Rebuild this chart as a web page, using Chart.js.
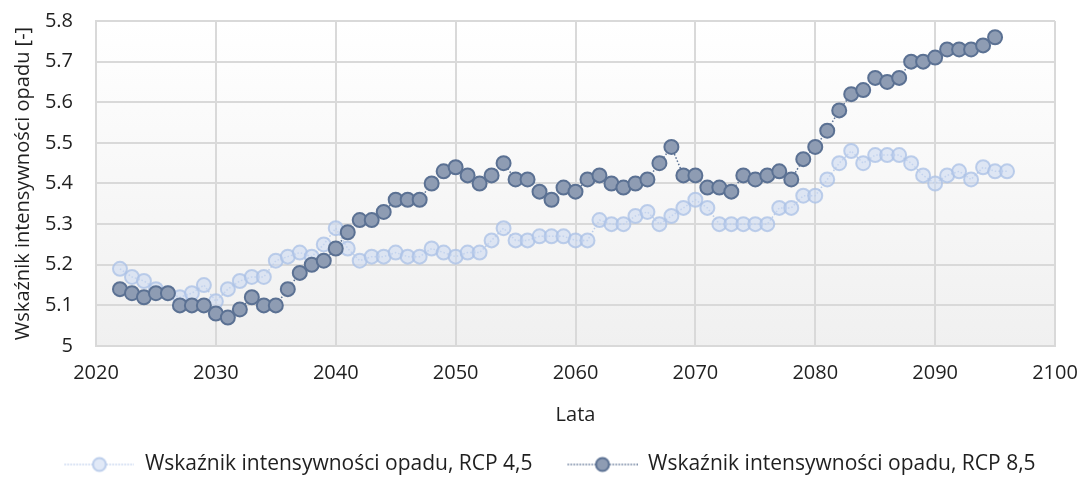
<!DOCTYPE html>
<html>
<head>
<meta charset="utf-8">
<script src="https://cdn.jsdelivr.net/npm/chart.js@4.4.1/dist/chart.umd.min.js"></script>
<style>
  html, body { margin: 0; padding: 0; background: #ffffff; }
  #wrap { width: 1080px; height: 495px; position: relative; }
</style>
</head>
<body>
<div id="wrap"><canvas id="chart"></canvas></div>
<script>
  "use strict";

  const YEARS_45 = [2022, 2023, 2024, 2025, 2026, 2027, 2028, 2029, 2030, 2031, 2032, 2033, 2034, 2035, 2036, 2037, 2038, 2039,
    2040, 2041, 2042, 2043, 2044, 2045, 2046, 2047, 2048, 2049, 2050, 2051, 2052, 2053, 2054, 2055, 2056, 2057, 2058, 2059,
    2060, 2061, 2062, 2063, 2064, 2065, 2066, 2067, 2068, 2069, 2070, 2071, 2072, 2073, 2074, 2075, 2076, 2077, 2078, 2079,
    2080, 2081, 2082, 2083, 2084, 2085, 2086, 2087, 2088, 2089, 2090, 2091, 2092, 2093, 2094, 2095, 2096];
  const RCP45 = [5.19, 5.17, 5.16, 5.14, 5.13, 5.12, 5.13, 5.15, 5.11, 5.14, 5.16, 5.17, 5.17, 5.21, 5.22, 5.23, 5.22, 5.25,
    5.29, 5.24, 5.21, 5.22, 5.22, 5.23, 5.22, 5.22, 5.24, 5.23, 5.22, 5.23, 5.23, 5.26, 5.29, 5.26, 5.26, 5.27, 5.27, 5.27,
    5.26, 5.26, 5.31, 5.30, 5.30, 5.32, 5.33, 5.30, 5.32, 5.34, 5.36, 5.34, 5.30, 5.30, 5.30, 5.30, 5.30, 5.34, 5.34, 5.37,
    5.37, 5.41, 5.45, 5.48, 5.45, 5.47, 5.47, 5.47, 5.45, 5.42, 5.40, 5.42, 5.43, 5.41, 5.44, 5.43, 5.43];

  const YEARS_85 = YEARS_45.slice(0, 74);
  const RCP85 = [5.14, 5.13, 5.12, 5.13, 5.13, 5.10, 5.10, 5.10, 5.08, 5.07, 5.09, 5.12, 5.10, 5.10, 5.14, 5.18, 5.20, 5.21,
    5.24, 5.28, 5.31, 5.31, 5.33, 5.36, 5.36, 5.36, 5.40, 5.43, 5.44, 5.42, 5.40, 5.42, 5.45, 5.41, 5.41, 5.38, 5.36, 5.39,
    5.38, 5.41, 5.42, 5.40, 5.39, 5.40, 5.41, 5.45, 5.49, 5.42, 5.42, 5.39, 5.39, 5.38, 5.42, 5.41, 5.42, 5.43, 5.41, 5.46,
    5.49, 5.53, 5.58, 5.62, 5.63, 5.66, 5.65, 5.66, 5.70, 5.70, 5.71, 5.73, 5.73, 5.73, 5.74, 5.76];

  const LABEL_45 = "Wskaźnik intensywności opadu, RCP 4,5";
  const LABEL_85 = "Wskaźnik intensywności opadu, RCP 8,5";

  const FONT = "'Open Sans', 'Liberation Sans', sans-serif";
  const TEXT_COLOR = "#1f1f1f";
  const GRID_COLOR = "#d9d9d9";

  const LIGHT_FILL = "rgba(200, 215, 240, 0.55)";
  const LIGHT_LINE = "rgba(170, 192, 230, 0.75)";
  const DARK_FILL = "#8e9cb3";
  const DARK_LINE = "#5b7193";

  const ICON_GAP = 25;   // blank space in front of each legend symbol
  const ICON_LINE = 70;

  function pairs(xs, ys) {
    return xs.map(function (x, i) { return { x: x, y: ys[i] }; });
  }

  // legend symbol: dotted line with a marker in the middle
  function legendIcon(fill, stroke) {
    const c = document.createElement("canvas");
    c.width = ICON_GAP + ICON_LINE;
    c.height = 18;
    const g = c.getContext("2d");
    const mid = ICON_GAP + ICON_LINE / 2;
    g.strokeStyle = stroke;
    g.lineWidth = 1.5;
    g.setLineDash([1.5, 1.5]);
    g.beginPath();
    g.moveTo(ICON_GAP, 9);
    g.lineTo(ICON_GAP + ICON_LINE, 9);
    g.stroke();
    g.setLineDash([]);
    g.beginPath();
    g.arc(mid, 9, 6.5, 0, Math.PI * 2);
    g.fillStyle = "#ffffff";
    g.fill();
    g.fillStyle = fill;
    g.fill();
    g.lineWidth = 2;
    g.strokeStyle = stroke;
    g.stroke();
    return c;
  }

  const plotBackground = {
    id: "plotBackground",
    beforeDraw: function (chart) {
      const a = chart.chartArea;
      const ctx = chart.ctx;
      const grad = ctx.createLinearGradient(0, a.top, 0, a.bottom);
      grad.addColorStop(0, "#ffffff");
      grad.addColorStop(1, "#f0f0f0");
      ctx.save();
      ctx.fillStyle = grad;
      ctx.fillRect(a.left, a.top, a.right - a.left, a.bottom - a.top);
      ctx.restore();
    },
  };

  new Chart(document.getElementById("chart"), {
    type: "line",
    data: {
      datasets: [
        {
          label: LABEL_45,
          data: pairs(YEARS_45, RCP45),
          borderColor: LIGHT_LINE,
          backgroundColor: LIGHT_FILL,
          borderWidth: 1.5,
          borderDash: [1.5, 2],
          pointRadius: 7,
          pointBorderWidth: 2,
          pointBackgroundColor: LIGHT_FILL,
          pointBorderColor: LIGHT_LINE,
          order: 1,
        },
        {
          label: LABEL_85,
          data: pairs(YEARS_85, RCP85),
          borderColor: DARK_LINE,
          backgroundColor: DARK_FILL,
          borderWidth: 1.5,
          borderDash: [1.5, 2],
          pointRadius: 7,
          pointBorderWidth: 2,
          pointBackgroundColor: DARK_FILL,
          pointBorderColor: DARK_LINE,
          order: 0,
        },
      ],
    },
    options: {
      responsive: true,
      maintainAspectRatio: false,
      animation: false,
      layout: { padding: { left: 11, right: 16, top: 21, bottom: 10 } },
      plugins: {
        tooltip: { enabled: false },
        legend: {
          position: "bottom",
          labels: {
            color: TEXT_COLOR,
            font: { family: FONT, size: 21 },
            usePointStyle: true,
            pointStyleWidth: ICON_GAP + ICON_LINE,
            boxHeight: 18,
            padding: 10,
            sort: function (a, b) { return a.datasetIndex - b.datasetIndex; },
            generateLabels: function (chart) {
              return chart.data.datasets.map(function (ds, i) {
                return {
                  text: ds.label,
                  datasetIndex: i,
                  fontColor: TEXT_COLOR,
                  pointStyle: i === 0 ? legendIcon(LIGHT_FILL, LIGHT_LINE) : legendIcon(DARK_FILL, DARK_LINE),
                  hidden: false,
                  lineWidth: 0,
                };
              });
            },
          },
        },
      },
      scales: {
        x: {
          type: "linear",
          min: 2020,
          max: 2100,
          afterFit: function (scale) {
            scale.height = 98;
            scale.paddingLeft = 0;
            scale.paddingRight = 25;
          },
          ticks: {
            stepSize: 10,
            color: TEXT_COLOR,
            font: { family: FONT, size: 20 },
            padding: 15,
            callback: function (v) { return String(v); },
          },
          grid: { color: GRID_COLOR, lineWidth: 2, drawTicks: false },
          border: { color: GRID_COLOR, width: 2 },
          title: {
            display: true,
            text: "Lata",
            color: TEXT_COLOR,
            font: { family: FONT, size: 20 },
            padding: { top: 0, bottom: 17 },
          },
        },
        y: {
          min: 5,
          max: 5.8,
          afterFit: function (scale) {
            scale.width = 85;
            scale.paddingTop = 0;
            scale.paddingBottom = 0;
          },
          ticks: {
            stepSize: 0.1,
            color: TEXT_COLOR,
            font: { family: FONT, size: 20 },
            padding: 23,
            callback: function (v) { return String(Math.round(v * 10) / 10); },
          },
          grid: { color: GRID_COLOR, lineWidth: 2, drawTicks: false },
          border: { color: GRID_COLOR, width: 2 },
          title: {
            display: true,
            text: "Wskaźnik intensywności opadu [-]",
            color: TEXT_COLOR,
            font: { family: FONT, size: 20 },
            padding: { top: 0, bottom: 0 },
          },
        },
      },
    },
    plugins: [plotBackground],
  });
</script>
</body>
</html>
